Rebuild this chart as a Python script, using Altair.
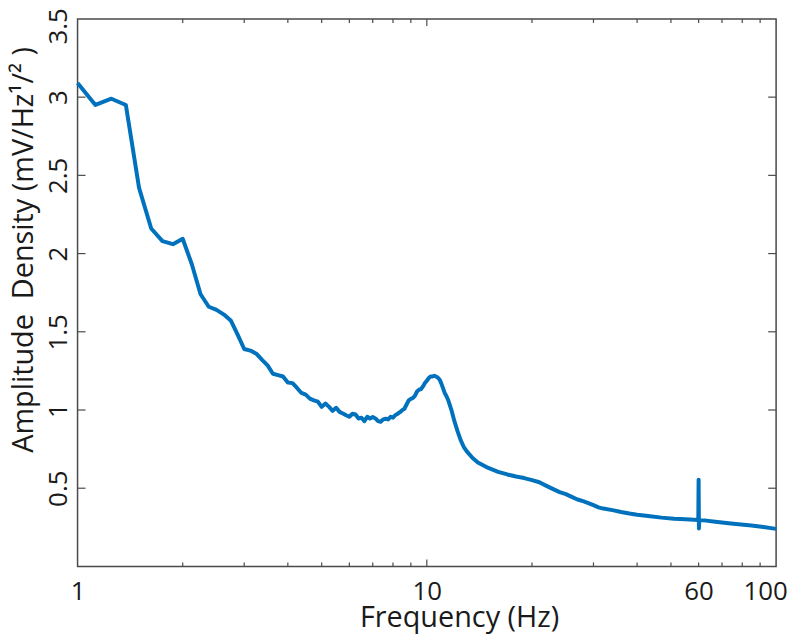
import altair as alt
import pandas as pd

# ---- data ----
freq = [1.0, 1.125, 1.25, 1.375, 1.5, 1.625, 1.75, 1.875, 2.0, 2.125, 2.25, 2.375,
        2.5, 2.625, 2.75, 2.875, 3.0, 3.125, 3.25, 3.375, 3.5, 3.625, 3.75, 3.875,
        4.0, 4.125, 4.25, 4.375, 4.5, 4.625, 4.75, 4.875, 5.0, 5.125, 5.25, 5.375,
        5.5, 5.625, 5.75, 5.875, 6.0, 6.125, 6.25, 6.375, 6.5, 6.625, 6.75, 6.875,
        7.0, 7.125, 7.25, 7.375, 7.5, 7.625, 7.75, 7.875, 8.0, 8.125, 8.25, 8.375,
        8.5, 8.625, 8.75, 8.875, 9.0, 9.125, 9.25, 9.375, 9.5, 9.625, 9.75, 9.875,
        10.0, 10.125, 10.25, 10.375, 10.5, 10.625, 10.75, 10.875, 11.0, 11.125, 11.25,
        11.375, 11.5, 11.75, 12.0, 12.25, 12.5, 12.75, 13.0, 13.5, 14.0, 15.0, 16.0,
        17.0, 18.0, 19.0, 20.0, 21.0, 22.0, 23.0, 24.0, 25.0, 26.0, 27.0, 28.0, 29.0,
        30.0, 31.0, 32.0, 34.0, 36.0, 38.0, 40.0, 43.0, 47.0, 51.0, 55.0, 59.75,
        59.875, 60.0, 60.125, 60.25, 63.0, 67.0, 72.0, 78.0, 85.0, 92.0, 100.0]
amplitude = [3.09, 2.95, 2.99, 2.95, 2.42, 2.16, 2.08, 2.06, 2.095, 1.93, 1.74, 1.66,
             1.64, 1.61, 1.57, 1.48, 1.39, 1.38, 1.36, 1.32, 1.285, 1.232, 1.223, 1.214,
             1.176, 1.172, 1.141, 1.109, 1.098, 1.073, 1.062, 1.054, 1.02, 1.041, 1.02, 0.995,
             1.014, 0.988, 0.978, 0.967, 0.957, 0.976, 0.971, 0.946, 0.951, 0.929, 0.957, 0.946,
             0.955, 0.946, 0.929, 0.925, 0.94, 0.944, 0.94, 0.957, 0.951, 0.967, 0.976, 0.986,
             0.999, 1.008, 1.035, 1.062, 1.071, 1.077, 1.092, 1.119, 1.13, 1.134, 1.151, 1.172,
             1.187, 1.204, 1.214, 1.214, 1.219, 1.214, 1.207, 1.195, 1.17, 1.14, 1.109,
             1.09, 1.066, 1.003, 0.927, 0.864, 0.807, 0.765, 0.737, 0.695, 0.665, 0.63, 0.605,
             0.588, 0.575, 0.565, 0.552, 0.538, 0.515, 0.494, 0.475, 0.462, 0.445, 0.428, 0.417, 0.405,
             0.392, 0.378, 0.37, 0.36, 0.348, 0.338, 0.33, 0.322, 0.312, 0.305, 0.301, 0.297,
             0.3, 0.555, 0.243, 0.296, 0.293, 0.286, 0.278, 0.27, 0.262, 0.252, 0.24]

x_labels = [1, 10, 60, 100]
y_labels = [0.5, 1.0, 1.5, 2.0, 2.5, 3.0, 3.5]
x_minor_ticks = [2, 3, 4, 5, 6, 7, 8, 9, 20, 30, 40, 50, 60, 70, 80, 90]
x_major_ticks = [10]
y_ticks = [0.5, 1.0, 1.5, 2.0, 2.5, 3.0]

W, H = 703, 551
AXIS_COLOR = "#4a4a4a"
TEXT_COLOR = "#1a1a1a"
FONT = "Open Sans"

df = pd.DataFrame({"f": freq, "a": amplitude})
xs = alt.Scale(type="log", domain=[1, 100], nice=False)
ys = alt.Scale(domain=[0, 3.5], nice=False, zero=False)

line = alt.Chart(df).mark_line(color="#0072BD", strokeWidth=4, strokeJoin="round").encode(
    x=alt.X("f:Q", scale=xs, axis=alt.Axis(
        values=x_labels, format="~g", title="Frequency (Hz)",
        labelPadding=33, labelBaseline="alphabetic", labelAlign="center",
        labelOffset={"condition": {"test": "datum.value == 100", "value": -11}, "value": 0},
        labelFlush=False, labelOverlap=False,
        titleX=384, titleY=60, titleAlign="center", titleBaseline="alphabetic")),
    y=alt.Y("a:Q", scale=ys, axis=alt.Axis(
        values=y_labels, format="~g", title="Amplitude \u00a0Density (mV/Hz\u00b9/\u00b2 )",
        labelAngle=270, labelAlign="center", labelBaseline="alphabetic", labelPadding=11,
        labelOffset={"condition": {"test": "datum.value == 3.5", "value": 7}, "value": 0},
        labelFlush=False, labelOverlap=False,
        titleAngle=270, titleX=-45, titleY=232, titleAlign="center", titleBaseline="alphabetic")),
)

def xticks(vals, y1, y2):
    return alt.Chart(pd.DataFrame({"f": vals})).mark_rule(color=AXIS_COLOR, strokeWidth=1.2).encode(
        x=alt.X("f:Q", scale=xs), y=alt.value(y1), y2=alt.value(y2))

def yticks(vals, x1, x2):
    return alt.Chart(pd.DataFrame({"a": vals})).mark_rule(color=AXIS_COLOR, strokeWidth=1.2).encode(
        y=alt.Y("a:Q", scale=ys), x=alt.value(x1), x2=alt.value(x2))

layers = [
    xticks(x_minor_ticks, H, H - 4), xticks(x_minor_ticks, 0, 4),
    xticks(x_major_ticks, H, H - 7), xticks(x_major_ticks, 0, 7),
    yticks(y_ticks, 0, 8), yticks(y_ticks, W, W - 8),
    line,
]

chart = alt.layer(*layers).properties(
    width=W, height=H, autosize="none",
    padding={"left": 70, "top": 9, "right": 16, "bottom": 67},
).configure_view(stroke=AXIS_COLOR, strokeWidth=1.5).configure_axis(
    domain=False, ticks=False, grid=False,
    labelFont=FONT, labelFontSize=26, labelColor=TEXT_COLOR,
    titleFont=FONT, titleFontSize=29, titleFontWeight="normal", titleColor=TEXT_COLOR,
)

chart.save("out.html", embed_options={"renderer": "svg", "actions": False})
